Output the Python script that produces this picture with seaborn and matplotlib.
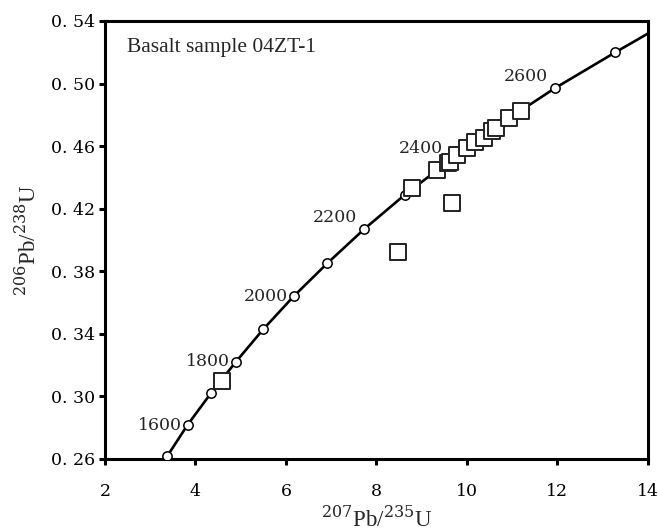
import numpy as np
import pandas as pd
import matplotlib
matplotlib.use("Agg")
import matplotlib.pyplot as plt
import seaborn as sns

# concordia age marks (Ma)
ages = [1500, 1600, 1700, 1800, 1900, 2000, 2100, 2200, 2300, 2400, 2500, 2600, 2700]
conc_x = [3.38, 3.83, 4.34, 4.89, 5.50, 6.17, 6.91, 7.73, 8.63, 9.63, 10.73, 11.94, 13.28]
conc_y = [0.262, 0.282, 0.302, 0.322, 0.343, 0.364, 0.385, 0.407, 0.429, 0.451, 0.474, 0.497, 0.520]
# where the curve leaves the frame at the right
curve_end = (14.0, 0.532)

labelled_ages = [1600, 1800, 2000, 2200, 2400, 2600]
label_x = [3.70, 4.76, 6.04, 7.57, 9.47, 11.79]
label_y = [0.2817, 0.322, 0.3636, 0.4141, 0.4582, 0.5042]

# zircon analyses (squares)
pb207_u235 = [4.58, 8.48, 9.66, 8.78, 9.33, 9.57, 9.62, 9.79, 10.00, 10.18,
              10.38, 10.55, 10.65, 10.92, 11.20]
pb206_u238 = [0.310, 0.3925, 0.4235, 0.4331, 0.4446, 0.4495, 0.4500, 0.4544,
              0.4590, 0.4625, 0.4655, 0.4695, 0.4715, 0.4778, 0.4823]

sns.set_theme(style="ticks")
plt.rcParams["font.family"] = ["DejaVu Serif"]
plt.rcParams["mathtext.fontset"] = "custom"
plt.rcParams["mathtext.rm"] = "DejaVu Serif"

fig = plt.figure(figsize=(6.59, 5.30), dpi=100)
ax = fig.add_axes([0.1593, 0.134, 0.824, 0.8264])

curve = pd.DataFrame({"x": conc_x + [curve_end[0]], "y": conc_y + [curve_end[1]]})
sns.lineplot(data=curve, x="x", y="y", sort=False, color="black", lw=1.9,
             ax=ax, zorder=2)
sns.scatterplot(x=conc_x, y=conc_y, marker="o", s=45, facecolor="white",
                edgecolor="black", linewidth=1.1, ax=ax, zorder=3)

for a, lx, ly in zip(labelled_ages, label_x, label_y):
    ax.text(lx, ly, str(a), ha="right", va="center", fontsize=12.5, zorder=2.5)

sns.scatterplot(x=pb207_u235, y=pb206_u238, marker="s", s=130, facecolor="white",
                edgecolor="#222222", linewidth=1.4, ax=ax, zorder=4)

ax.set_xlim(2, 14)
ax.set_ylim(0.26, 0.54)
ax.set_xticks(np.arange(2, 15, 2))
yt = np.round(np.arange(0.26, 0.541, 0.04), 2)
ax.set_yticks(yt)
ax.set_yticklabels([f"{v:.2f}".replace(".", ". ") for v in yt])

for s in ax.spines.values():
    s.set_visible(True)
    s.set_linewidth(2.2)
    s.set_color("black")
ax.tick_params(direction="out", length=4, width=2.2, labelsize=12.5,
               colors="black")
ax.tick_params(axis="x", pad=13)
ax.tick_params(axis="y", pad=3)

ax.set_xlabel(r"$^{207}$Pb/$^{235}$U", fontsize=16.5, labelpad=4,
              family="Liberation Serif")
ax.set_ylabel(r"$^{206}$Pb/$^{238}$U", fontsize=16.5, labelpad=8,
              family="Liberation Serif")

ax.text(0.04, 0.94, "Basalt sample 04ZT-1", transform=ax.transAxes,
        ha="left", va="center", fontsize=15.5, family="Liberation Serif")

fig.savefig("out.png", dpi=100)
